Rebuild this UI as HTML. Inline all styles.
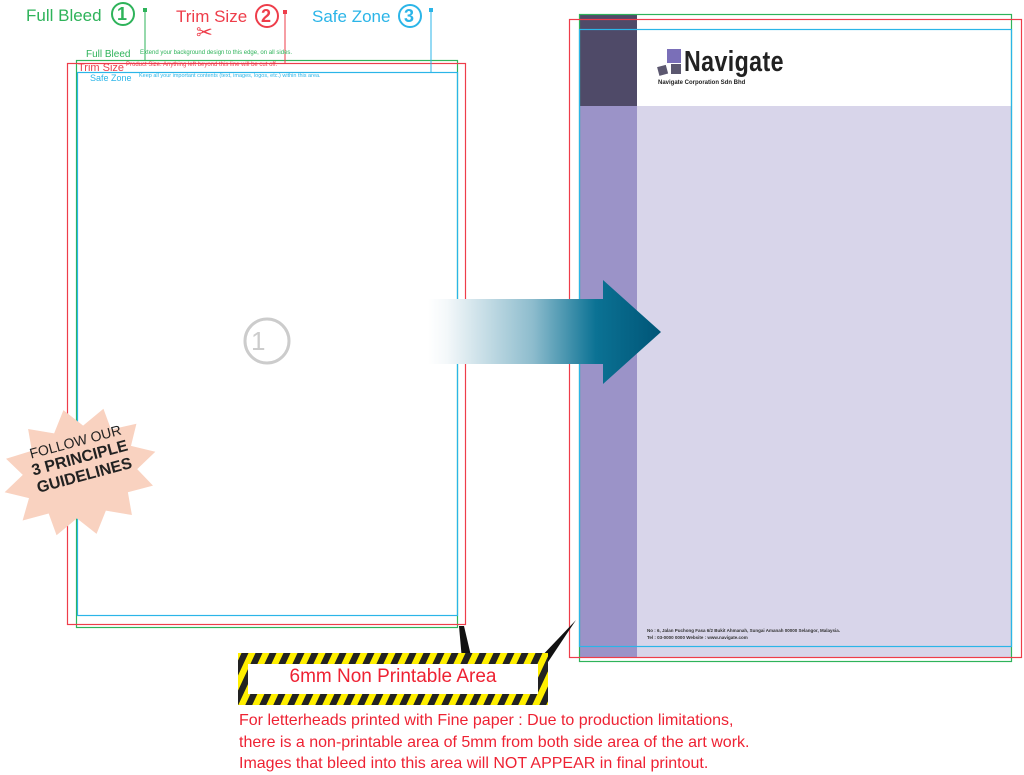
<!DOCTYPE html>
<html><head><meta charset="utf-8"><style>
body{margin:0;width:1024px;height:773px;background:#fff;overflow:hidden;position:relative;font-family:"Liberation Sans",sans-serif}
.a{position:absolute}
</style></head><body>
<svg class="a" style="left:0;top:0" width="1024" height="773">
<defs>
<linearGradient id="g" x1="428" x2="661" y1="0" y2="0" gradientUnits="userSpaceOnUse">
<stop offset="0" stop-color="#fff"/><stop offset="0.08" stop-color="#f4f8fa"/><stop offset="0.45" stop-color="#8dbccd"/><stop offset="0.72" stop-color="#0b7294"/><stop offset="1" stop-color="#005577"/>
</linearGradient>
<pattern id="hz" width="14" height="14" patternUnits="userSpaceOnUse" patternTransform="skewX(-25)">
<rect width="14" height="14" fill="#ffef00"/><rect width="7" height="14" fill="#222"/>
</pattern>
</defs>
<rect x="76.5" y="60.5" width="381" height="567" fill="none" stroke="#2eb35a" stroke-width="1.2"/>
<rect x="67.5" y="63.5" width="398" height="561" fill="none" stroke="#ee3d4a" stroke-width="1.2"/>
<rect x="77.5" y="72.5" width="380" height="543" fill="none" stroke="#2bb5e8" stroke-width="1.2"/>
<line x1="145" y1="10" x2="145" y2="60" stroke="#2eb35a"/><rect x="143" y="8" width="4" height="4" fill="#2eb35a"/>
<line x1="285" y1="12" x2="285" y2="63" stroke="#ee3d4a"/><rect x="283" y="10" width="4" height="4" fill="#ee3d4a"/>
<line x1="431" y1="10" x2="431" y2="72" stroke="#2bb5e8"/><rect x="429" y="8" width="4" height="4" fill="#2bb5e8"/>
<circle cx="123" cy="14" r="11" fill="none" stroke="#2eb35a" stroke-width="2"/>
<circle cx="267" cy="16" r="11" fill="none" stroke="#ee3d4a" stroke-width="2"/>
<circle cx="410" cy="16" r="11" fill="none" stroke="#2bb5e8" stroke-width="2"/>
<circle cx="267" cy="341" r="22" fill="none" stroke="#ccc" stroke-width="3"/>
<rect x="579" y="14" width="58" height="92" fill="#4f4a68"/>
<rect x="579" y="106" width="58" height="552" fill="#9b93c8"/>
<rect x="637" y="106" width="375" height="552" fill="#d8d5ea"/>
<rect x="579.5" y="14.5" width="432" height="647" fill="none" stroke="#2eb35a" stroke-width="1.2"/>
<rect x="569.5" y="19.5" width="452" height="638" fill="none" stroke="#ee3d4a" stroke-width="1.2"/>
<rect x="579.5" y="29.5" width="432" height="617" fill="none" stroke="#2bb5e8" stroke-width="1.2"/>
<rect x="667" y="49" width="14" height="14" fill="#7a6fb8"/>
<rect x="671" y="64" width="10" height="10" fill="#5c5870"/>
<rect x="658" y="66" width="9" height="9" fill="#5c5870" transform="rotate(-15 662 70)"/>
<path d="M428 299H603V280L661 332L603 384V364H428Z" fill="url(#g)"/>
<polygon transform="rotate(-15 80 472)" fill="#f9d2c0" points="158,472 136,484 147,504 121,504 119,527 95,516 80,536 65,516 41,527 39,504 12,504 24,484 2,472 24,460 12,440 39,439 41,417 65,428 80,408 95,428 119,417 121,439 147,440 136,460"/>
<polygon points="459,626 464,626 472,660 462,660" fill="#111"/>
<polygon points="576,620 546,665 538,660" fill="#111"/>
<rect x="238" y="653" width="310" height="52" fill="url(#hz)"/>
<rect x="248" y="664" width="290" height="30" fill="#fff"/>
</svg>
<div class="a" style="left:26px;top:6px;font-size:17px;color:#2eb35a">Full Bleed</div>
<div class="a" style="left:117px;top:4px;font-size:18px;font-weight:bold;color:#2eb35a">1</div>
<div class="a" style="left:176px;top:7px;font-size:17px;color:#ee3d4a">Trim Size</div>
<div class="a" style="left:261px;top:6px;font-size:18px;font-weight:bold;color:#ee3d4a">2</div>
<div class="a" style="left:196px;top:20px;font-size:20px;color:#ee3d4a">✂</div>
<div class="a" style="left:312px;top:7px;font-size:17px;color:#2bb5e8">Safe Zone</div>
<div class="a" style="left:404px;top:6px;font-size:18px;font-weight:bold;color:#2bb5e8">3</div>
<div class="a" style="left:86px;top:49px;font-size:10px;color:#2eb35a">Full Bleed</div>
<div class="a" style="left:140px;top:50px;font-size:6px;color:#2eb35a">Extend your background design to this edge, on all sides.</div>
<div class="a" style="left:78px;top:62px;font-size:11px;color:#ee3d4a">Trim Size</div>
<div class="a" style="left:126px;top:62px;font-size:6px;color:#ee3d4a">Product Size. Anything left beyond this line will be cut off.</div>
<div class="a" style="left:90px;top:73px;font-size:9px;color:#2bb5e8">Safe Zone</div>
<div class="a" style="left:139px;top:73px;font-size:5.5px;color:#2bb5e8">Keep all your important contents (text, images, logos, etc.) within this area.</div>
<div class="a" style="left:251px;top:326px;font-size:26px;color:#ccc">1</div>
<div class="a" style="left:684px;top:46px;font-size:29px;font-weight:bold;color:#222;transform:scaleX(0.8);transform-origin:left;letter-spacing:0.5px">Navigate</div>
<div class="a" style="left:658px;top:80px;font-size:6px;font-weight:bold;color:#222">Navigate Corporation Sdn Bhd</div>
<div class="a" style="left:647px;top:627px;font-size:4.5px;font-weight:bold;color:#333;line-height:7px">No : 6, Jalan Puchong Fasa 6/2 Bukit Ahmanah, Sungai Amanah 00000 Selangor, Malaysia.<br>Tel : 03-0000 0000 Website : www.navigate.com</div>
<div class="a" style="left:10px;top:432px;width:140px;text-align:center;transform:rotate(-15deg);color:#222;line-height:18px">
<div style="font-size:14px">FOLLOW OUR</div><div style="font-size:16px;font-weight:bold">3 PRINCIPLE</div><div style="font-size:16px;font-weight:bold">GUIDELINES</div></div>
<div class="a" style="left:248px;top:666px;width:290px;text-align:center;font-size:19px;color:#ee2233">6mm Non Printable Area</div>
<div class="a" style="left:239px;top:710px;font-size:16px;line-height:21.5px;color:#ee2233">For letterheads printed with Fine paper : Due to production limitations,<br>there is a non-printable area of 5mm from both side area of the art work.<br>Images that bleed into this area will NOT APPEAR in final printout.</div>
</body></html>
